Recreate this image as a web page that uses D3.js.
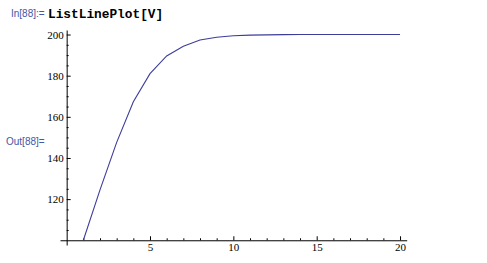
<!DOCTYPE html>
<html>
<head>
<meta charset="utf-8">
<script src="https://cdn.jsdelivr.net/npm/d3@7"></script>
<style>
  body { margin: 0; background: #fff; }
</style>
</head>
<body>
<div id="chart"></div>
<script>
// list index and V values
const xs = [1, 2, 3, 4, 5, 6, 7, 8, 9, 10, 11, 12, 13, 14, 15, 16, 17, 18, 19, 20];
const values = [100, 124.5, 147.6, 167.3, 181.0, 189.6, 194.3, 197.3, 198.7, 199.4,
                199.7, 199.85, 199.95, 200, 200, 200, 200, 200, 200, 200];
const xMajor = [5, 10, 15, 20];
const yMajor = [120, 140, 160, 180, 200];

const svgWidth = 487;
const svgHeight = 263;

const svg = d3.select("#chart")
    .append("svg")
    .attr("width", svgWidth)
    .attr("height", svgHeight);

const x = d3.scaleLinear().domain([-0.4, 20.4]).range([60, 406.7]);
const y = d3.scaleLinear().domain([97.7, 202.2]).range([245, 30]);

// notebook cell labels
const blue = "#4257a6";
svg.append("text")
    .attr("x", 11).attr("y", 17)
    .style("font-family", "'Liberation Sans', Arial, sans-serif")
    .attr("font-size", 10)
    .attr("fill", blue)
    .text("In[88]:=");

svg.append("text")
    .attr("x", 48).attr("y", 17.5)
    .style("font-family", "'Liberation Mono', 'Courier New', monospace")
    .attr("font-weight", "bold")
    .attr("font-size", 12.8)
    .attr("fill", "#000")
    .text("ListLinePlot[V]");

svg.append("text")
    .attr("x", 6).attr("y", 145)
    .style("font-family", "'Liberation Sans', Arial, sans-serif")
    .attr("font-size", 10)
    .attr("fill", blue)
    .text("Out[88]=");

// x axis (crosses at 100)
const xMinor = d3.range(1, 21).filter(d => d % 5 !== 0);
svg.append("g")
    .attr("transform", `translate(0,${y(100)})`)
    .call(d3.axisBottom(x).tickValues(xMinor).tickSize(-2).tickSizeOuter(0).tickFormat(""))
    .call(g => g.select(".domain").remove());
svg.append("g")
    .attr("transform", `translate(0,${y(100)})`)
    .call(d3.axisBottom(x).tickValues(xMajor).tickSize(-4).tickSizeOuter(0).tickPadding(3));

// y axis (at x = 0)
const yMinor = d3.range(100, 201, 5).filter(d => d % 20 !== 0);
svg.append("g")
    .attr("transform", `translate(${x(0)},0)`)
    .call(d3.axisLeft(y).tickValues(yMinor).tickSize(-2).tickSizeOuter(0).tickFormat(""))
    .call(g => g.select(".domain").remove());
svg.append("g")
    .attr("transform", `translate(${x(0)},0)`)
    .call(d3.axisLeft(y).tickValues(yMajor).tickSize(-4).tickSizeOuter(0).tickPadding(3));

svg.selectAll(".domain, .tick line").attr("stroke", "#000");
svg.selectAll(".tick text")
    .style("font-family", "'Liberation Serif', 'Times New Roman', serif")
    .style("font-size", "11px");

// the line
const line = d3.line()
    .x((d, i) => x(xs[i]))
    .y(d => y(d));

svg.append("path")
    .datum(values)
    .attr("fill", "none")
    .attr("stroke", "#3d3d99")
    .attr("stroke-width", 1.1)
    .attr("d", line);
</script>
</body>
</html>
